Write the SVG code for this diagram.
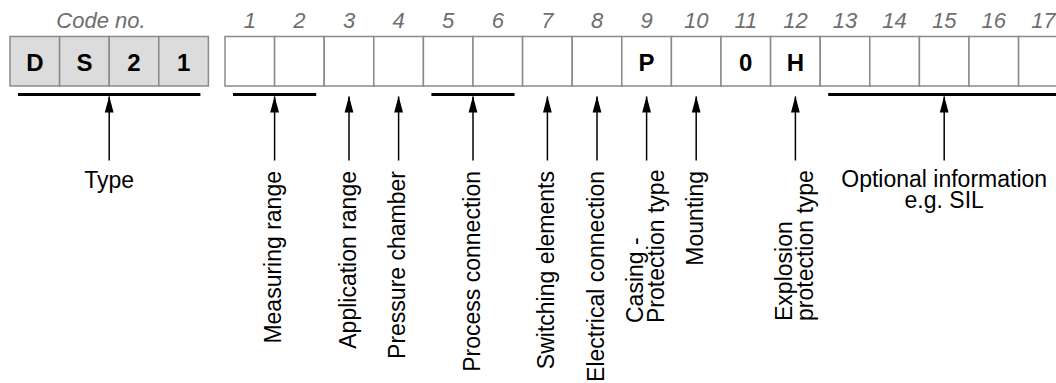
<svg xmlns="http://www.w3.org/2000/svg" width="1056" height="383" viewBox="0 0 1056 383">
<style>
.num{font-family:"Liberation Sans",Arial,sans-serif;font-size:22px;font-style:italic;fill:#6e6e6e;text-anchor:middle}
.box{fill:#ffffff;stroke:#8a8a8a;stroke-width:1.5}
.cbox{fill:#dcdcdc;stroke:#8a8a8a;stroke-width:1.5}
.val{font-family:"Liberation Sans",Arial,sans-serif;font-size:24px;font-weight:bold;fill:#000;text-anchor:middle}
.bar{stroke:#000;stroke-width:3}
.arr{stroke:#000;stroke-width:1.5;fill:none}
.lbl{font-family:"Liberation Sans",Arial,sans-serif;font-size:23px;fill:#000}
</style>
<defs>
<marker id="ah" markerUnits="userSpaceOnUse" markerWidth="17" markerHeight="10" viewBox="0 0 17 10" refX="16" refY="5" orient="auto">
<path d="M0,0.6 L16.5,5 L0,9.4 Z" fill="#000"/>
</marker>
</defs>
<g id="header">
<text class="num" x="101" y="28">Code no.</text>
<text class="num" x="249.8" y="28">1</text>
<text class="num" x="299.4" y="28">2</text>
<text class="num" x="349" y="28">3</text>
<text class="num" x="398.6" y="28">4</text>
<text class="num" x="448.2" y="28">5</text>
<text class="num" x="497.8" y="28">6</text>
<text class="num" x="547.4" y="28">7</text>
<text class="num" x="597" y="28">8</text>
<text class="num" x="646.6" y="28">9</text>
<text class="num" x="696.2" y="28">10</text>
<text class="num" x="745.8" y="28">11</text>
<text class="num" x="795.4" y="28">12</text>
<text class="num" x="845" y="28">13</text>
<text class="num" x="894.6" y="28">14</text>
<text class="num" x="944.2" y="28">15</text>
<text class="num" x="993.8" y="28">16</text>
<text class="num" x="1043.4" y="28">17</text>
</g>
<g id="code-boxes">
<rect class="cbox" x="10" y="36.5" width="49.6" height="49.5"/>
<rect class="cbox" x="59.6" y="36.5" width="49.6" height="49.5"/>
<rect class="cbox" x="109.2" y="36.5" width="49.6" height="49.5"/>
<rect class="cbox" x="158.8" y="36.5" width="49.6" height="49.5"/>
<text class="val" x="34.8" y="71">D</text>
<text class="val" x="84.4" y="71">S</text>
<text class="val" x="134" y="71">2</text>
<text class="val" x="183.6" y="71">1</text>
</g>
<g id="field-boxes">
<rect class="box" x="225" y="36.5" width="49.6" height="49.5"/>
<rect class="box" x="274.6" y="36.5" width="49.6" height="49.5"/>
<rect class="box" x="324.2" y="36.5" width="49.6" height="49.5"/>
<rect class="box" x="373.8" y="36.5" width="49.6" height="49.5"/>
<rect class="box" x="423.4" y="36.5" width="49.6" height="49.5"/>
<rect class="box" x="473" y="36.5" width="49.6" height="49.5"/>
<rect class="box" x="522.6" y="36.5" width="49.6" height="49.5"/>
<rect class="box" x="572.2" y="36.5" width="49.6" height="49.5"/>
<rect class="box" x="621.8" y="36.5" width="49.6" height="49.5"/>
<rect class="box" x="671.4" y="36.5" width="49.6" height="49.5"/>
<rect class="box" x="721" y="36.5" width="49.6" height="49.5"/>
<rect class="box" x="770.6" y="36.5" width="49.6" height="49.5"/>
<rect class="box" x="820.2" y="36.5" width="49.6" height="49.5"/>
<rect class="box" x="869.8" y="36.5" width="49.6" height="49.5"/>
<rect class="box" x="919.4" y="36.5" width="49.6" height="49.5"/>
<rect class="box" x="969" y="36.5" width="49.6" height="49.5"/>
<rect class="box" x="1018.6" y="36.5" width="49.6" height="49.5"/>
<text class="val" x="646.6" y="71">P</text>
<text class="val" x="745.8" y="71">0</text>
<text class="val" x="795.4" y="71">H</text>
</g>
<g id="connectors">
<line class="bar" x1="18" y1="94.5" x2="200.4" y2="94.5"/>
<line class="bar" x1="233" y1="94.5" x2="316.2" y2="94.5"/>
<line class="bar" x1="431.4" y1="94.5" x2="514.6" y2="94.5"/>
<line class="bar" x1="828.2" y1="94.5" x2="1060" y2="94.5"/>
<line class="arr" x1="109.2" y1="160.5" x2="109.2" y2="96.5" marker-end="url(#ah)"/>
<line class="arr" x1="274.6" y1="160.5" x2="274.6" y2="96.5" marker-end="url(#ah)"/>
<line class="arr" x1="349" y1="160.5" x2="349" y2="96.5" marker-end="url(#ah)"/>
<line class="arr" x1="398.6" y1="160.5" x2="398.6" y2="96.5" marker-end="url(#ah)"/>
<line class="arr" x1="473" y1="160.5" x2="473" y2="96.5" marker-end="url(#ah)"/>
<line class="arr" x1="547.4" y1="160.5" x2="547.4" y2="96.5" marker-end="url(#ah)"/>
<line class="arr" x1="597" y1="160.5" x2="597" y2="96.5" marker-end="url(#ah)"/>
<line class="arr" x1="646.6" y1="160.5" x2="646.6" y2="96.5" marker-end="url(#ah)"/>
<line class="arr" x1="696.2" y1="160.5" x2="696.2" y2="96.5" marker-end="url(#ah)"/>
<line class="arr" x1="795.4" y1="160.5" x2="795.4" y2="96.5" marker-end="url(#ah)"/>
<line class="arr" x1="944.2" y1="160.5" x2="944.2" y2="96.5" marker-end="url(#ah)"/>
</g>
<g id="label-type"><text class="lbl" x="109.2" y="187.5" text-anchor="middle">Type</text></g>
<g id="label-measuring"><text class="lbl" transform="translate(281,171) rotate(-90)" text-anchor="end">Measuring range</text></g>
<g id="label-application"><text class="lbl" transform="translate(355.5,171) rotate(-90)" text-anchor="end">Application range</text></g>
<g id="label-pressure"><text class="lbl" transform="translate(405,171) rotate(-90)" text-anchor="end">Pressure chamber</text></g>
<g id="label-process"><text class="lbl" transform="translate(479.5,171) rotate(-90)" text-anchor="end">Process connection</text></g>
<g id="label-switching"><text class="lbl" transform="translate(554,171) rotate(-90)" text-anchor="end">Switching elements</text></g>
<g id="label-electrical"><text class="lbl" transform="translate(603.5,171) rotate(-90)" text-anchor="end">Electrical connection</text></g>
<g id="label-casing">
<text class="lbl" transform="translate(643,323) rotate(-90)">Casing -</text>
<text class="lbl" transform="translate(664,323) rotate(-90)">Protection type</text>
</g>
<g id="label-mounting"><text class="lbl" transform="translate(702.7,171) rotate(-90)" text-anchor="end">Mounting</text></g>
<g id="label-explosion">
<text class="lbl" transform="translate(791.5,321) rotate(-90)">Explosion</text>
<text class="lbl" transform="translate(812.5,321) rotate(-90)">protection type</text>
</g>
<g id="label-optional">
<text class="lbl" x="944.2" y="187.3" text-anchor="middle">Optional information</text>
<text class="lbl" x="944.2" y="208.3" text-anchor="middle">e.g. SIL</text>
</g>
</svg>
